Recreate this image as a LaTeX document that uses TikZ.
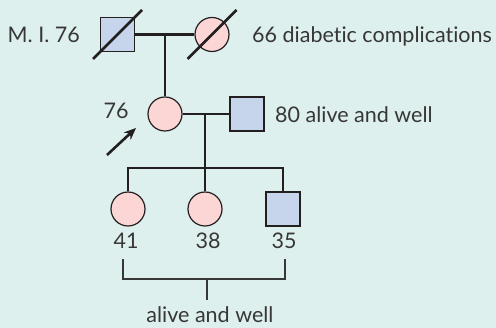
\documentclass[tikz,border=0pt]{standalone}
\usepackage{fontspec}
\setmainfont{Lato}[Ligatures={NoCommon}]
\usetikzlibrary{arrows.meta,calc}

\definecolor{bgteal}{RGB}{221,240,238}
\definecolor{femfill}{RGB}{252,213,213}
\definecolor{malfill}{RGB}{198,212,236}
\definecolor{inkgray}{RGB}{35,31,32}
\definecolor{txtgray}{RGB}{55,55,55}

\begin{document}
\begin{tikzpicture}[x=1pt,y=-1pt]
        \tikzset{female/.style={circle, draw=inkgray, line width=1.2pt, fill=femfill, minimum size=34pt, inner sep=0pt},
                 male/.style={rectangle, draw=inkgray, line width=1.2pt, fill=malfill, minimum size=34pt, inner sep=0pt},
                 line/.style={draw=inkgray, line width=2.6pt},
                 lbl/.style={text=txtgray, font=\fontsize{21.5}{24}\selectfont, inner sep=0pt},
                 brk/.style={draw=txtgray, line width=1.2pt}}
        \fill[bgteal] (0,0) rectangle (496,328);
        \useasboundingbox (0,0) rectangle (496,328);

        % grandparents
        \node[male] (gf) at (117.5,34.5) {};
        \node[female] (gm) at (212,34.5) {};
        \coordinate (m1) at (165,34.5);
        % parents
        \node[female] (mo) at (165,114) {};
        \node[male] (fa) at (247,114) {};
        \coordinate (m2) at (205,114);
        % children
        \coordinate (sib) at (205,168);
        \node[female] (c1) at (128,209) {};
        \node[female] (c2) at (205,209) {};
        \node[male] (c3) at (283,209) {};

        \draw[line] (gf) -- (gm);
        \draw[line] (m1) -- (mo);
        \draw[line] (mo) -- (fa);
        \draw[line] (m2) -- (sib);
        \draw[line] (c1.north) |- (sib) -| (c3.north);
        \draw[line] (sib) -- (c2.north);

        % deceased
        \draw[line] ($(gf)+(-24.5,24.5)$) -- ($(gf)+(24.5,-24.5)$);
        \draw[line] ($(gm)+(-24.5,24.5)$) -- ($(gm)+(24.5,-24.5)$);

        % proband
        \coordinate (arrtail) at (107,155);
        \coordinate (arrhead) at (136,128);
        \draw[line, -{Stealth[length=12pt, width=10pt]}] (arrtail) -- (arrhead);

        \node[lbl, anchor=base east] (gflbl) at (80,43) {M. I. 76};
        \node[lbl, anchor=base west] (gmlbl) at (252,43) {66 diabetic complications};
        \node[lbl, anchor=base] (molbl) at (116,119) {76};
        \node[lbl, anchor=base west] (falbl) at (275,123) {80 alive and well};
        \node[lbl, anchor=base] (c1lbl) at (126,249) {41};
        \node[lbl, anchor=base] (c2lbl) at (208,249) {38};
        \node[lbl, anchor=base] (c3lbl) at (284,249) {35};

        % bracket
        \coordinate (brl) at (123,259);
        \coordinate (brr) at (285,259);
        \coordinate (tick) at (207,279);
        \draw[brk] (brl) |- (tick) -| (brr);
        \draw[brk] (tick) -- ++(0,21);
        \node[lbl, anchor=base] (alw) at (210,323) {alive and well};
\end{tikzpicture}
\end{document}
